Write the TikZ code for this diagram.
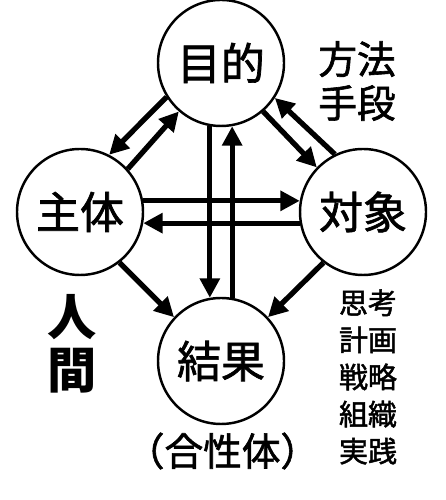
\documentclass[tikz,border=0pt]{standalone}
\usepackage{fontspec}
\setmainfont{Noto Sans CJK JP}
\newfontfamily\jpmed{Noto Sans CJK JP}[FakeBold=1.6]
\usetikzlibrary{arrows.meta}

\begin{document}
\begin{tikzpicture}[
  circ/.style={circle,draw,line width=1.4pt,minimum size=2.52cm,inner sep=0pt,
    font=\jpmed\fontsize{25}{28}\selectfont},
  arr/.style={line width=3pt,-{Triangle[length=11pt,width=11pt]}},
  lbl/.style={align=center,inner sep=0pt}]
  \useasboundingbox (0,0) rectangle (8.9,10);
  % the four circles
  \node[circ] (goal) at (4.42,8.74) {目的};
  \node[circ] (subj) at (1.60,5.76) {主体};
  \node[circ] (obj)  at (7.26,5.76) {対象};
  \node[circ] (res)  at (4.42,2.78) {結果};
  % goal <-> subject
  \draw[arr] (goal.212) -- (subj.63);
  \draw[arr] (subj.42) -- (goal.229);
  % goal <-> object
  \draw[arr] (obj.116) -- (goal.327);
  \draw[arr] (goal.311) -- (obj.136);
  % subject <-> object
  \draw[arr] (subj.10) -- (obj.170);
  \draw[arr] (obj.190) -- (subj.350);
  % goal <-> result
  \draw[arr] (goal.260) -- (res.100);
  \draw[arr] (res.80) -- (goal.280);
  % into the result
  \draw[arr] (subj.308) -- (res.137);
  \draw[arr] (obj.232) -- (res.43);
  % side texts
  \node[lbl,font=\jpmed\fontsize{22}{25}\selectfont] (means) at (7.14,8.38) {方法\\手段};
  \node[lbl,font=\bfseries\fontsize{28}{30}\selectfont] (human) at (1.44,3.12) {人\\間};
  \node[lbl,font=\jpmed\fontsize{16.5}{21.1}\selectfont] (acts) at (7.36,2.46) {思考\\計画\\戦略\\組織\\実践};
  \node[lbl,font=\jpmed\fontsize{22}{24}\selectfont] (unity) at (4.45,0.98) {（合性体）};
\end{tikzpicture}
\end{document}
